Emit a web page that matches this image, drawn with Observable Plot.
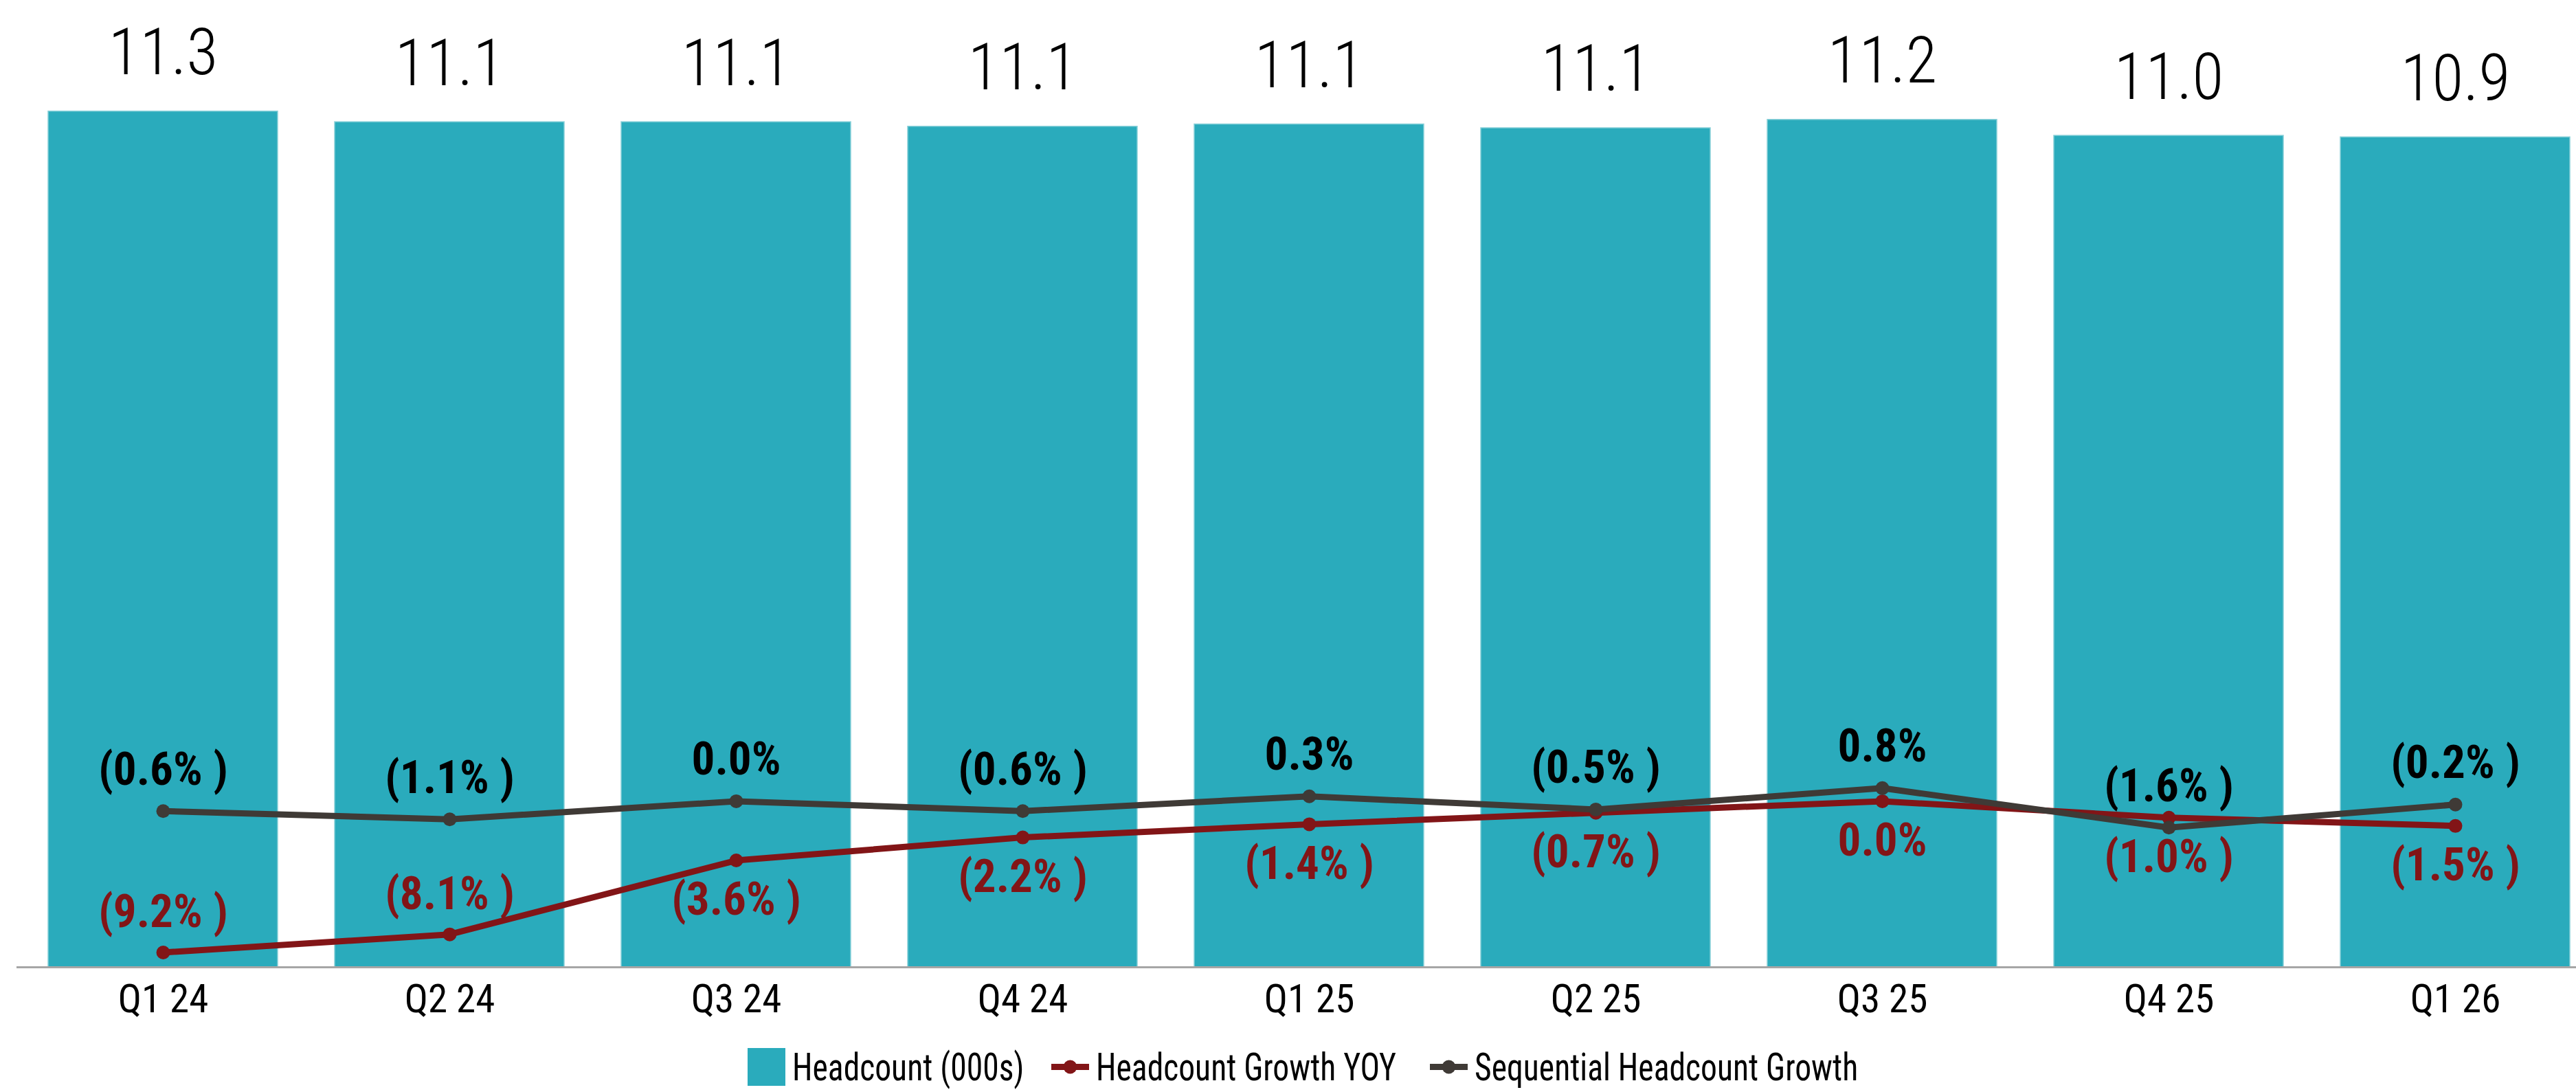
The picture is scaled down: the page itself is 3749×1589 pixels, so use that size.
<!DOCTYPE html>
<html>
<head>
<meta charset="utf-8">
<script src="https://cdn.jsdelivr.net/npm/d3@7"></script>
<script src="https://cdn.jsdelivr.net/npm/@observablehq/plot@0.6"></script>
<style>
  html, body { margin: 0; padding: 0; background: #ffffff; }
  body { width: 3749px; height: 1589px; overflow: hidden;
         font-family: "Liberation Sans Narrow", "Roboto Condensed", "Arial Narrow", "DejaVu Sans Condensed", sans-serif;
         font-stretch: condensed; }
  #legend { height: 89px; position: relative; }
  .item { position: absolute; top: 25px; height: 55px; display: flex; align-items: center;
          font-size: 56px; color: #000; white-space: nowrap; }
  .item svg { margin-right: 10px; flex: none; }
  .item span { display: inline-block; transform: scaleX(0.85); transform-origin: left center; }
</style>
</head>
<body>
<div id="chart"></div>
<div id="legend"></div>
<script>
// ---- data ----
const quarters   = ["Q1 24", "Q2 24", "Q3 24", "Q4 24", "Q1 25", "Q2 25", "Q3 25", "Q4 25", "Q1 26"];
const headcount  = [11.28, 11.14, 11.14, 11.08, 11.11, 11.06, 11.17, 10.96, 10.94]; // thousands
const yoyGrowth  = [-9.2, -8.1, -3.6, -2.2, -1.4, -0.7, 0.0, -1.0, -1.5];         // %
const seqGrowth  = [-0.6, -1.1, 0.0, -0.6, 0.3, -0.5, 0.8, -1.6, -0.2];           // %
const seriesNames = ["Headcount (000s)", "Headcount Growth YOY", "Sequential Headcount Growth"];

const rows = quarters.map((q, i) => ({q, hc: headcount[i], yoy: yoyGrowth[i], seq: seqGrowth[i]}));

const barColor = "#2aabbc";
const yoyColor = "#821517";
const seqColor = "#3f3a36";
const fontFam = '"Liberation Sans Narrow", "Roboto Condensed", "Arial Narrow", "DejaVu Sans Condensed", sans-serif';

// secondary (percent) axis aligned to the primary headcount axis
const yDomain = [0, 12.5];
const pctDomain = [-10.1, 47.6];
const y2 = d3.scaleLinear(pctDomain, yDomain);

const fmtPct = p => p < 0 ? `(${Math.abs(p).toFixed(1)}% )` : `${p.toFixed(1)}%`;
const fmtHc = d3.format(".1f");

const chart = Plot.plot({
  width: 3749,
  height: 1500,
  marginLeft: 67,
  marginRight: 7,
  marginTop: 27,
  marginBottom: 93,
  style: {fontFamily: fontFam, fontStretch: "condensed", color: "#000", background: "#fff"},
  x: {domain: quarters, paddingInner: 0.2, paddingOuter: 0, axis: null},
  y: {domain: yDomain, axis: null},
  marks: [
    Plot.barY(rows, {x: "q", y: "hc", fill: barColor, stroke: "#86cfd8", strokeWidth: 1.5}),
    Plot.ruleY([0], {stroke: "#a6a6a6", strokeWidth: 3, insetLeft: -43, insetRight: -7}),
    Plot.axisX({tickSize: 0, tickPadding: 25, fontSize: 57, fill: "#000", label: null}),
    Plot.text(rows, {x: "q", y: "hc", text: d => fmtHc(d.hc), lineAnchor: "bottom", dy: -54,
                     fontSize: 94, fontWeight: 300, fill: "#000"}),
    Plot.line(rows, {x: "q", y: d => y2(d.yoy), stroke: yoyColor, strokeWidth: 9}),
    Plot.dot(rows, {x: "q", y: d => y2(d.yoy), r: 10, fill: yoyColor}),
    Plot.line(rows, {x: "q", y: d => y2(d.seq), stroke: seqColor, strokeWidth: 9}),
    Plot.dot(rows, {x: "q", y: d => y2(d.seq), r: 10, fill: seqColor}),
    // sequential labels above points
    Plot.text(rows, {x: "q", y: d => y2(d.seq), text: d => fmtPct(d.seq), dy: -60,
                     fontSize: 67, fontWeight: "bold", fill: "#000"}),
    // YOY labels: above the point when far below the other line, otherwise below
    Plot.text(rows.filter(d => d.yoy < -5), {x: "q", y: d => y2(d.yoy), text: d => fmtPct(d.yoy), dy: -58,
                     fontSize: 67, fontWeight: "bold", fill: yoyColor}),
    Plot.text(rows.filter(d => d.yoy >= -5), {x: "q", y: d => y2(d.yoy), text: d => fmtPct(d.yoy), dy: 58,
                     fontSize: 67, fontWeight: "bold", fill: yoyColor})
  ]
});
document.getElementById("chart").appendChild(chart);

// legend
const legend = document.getElementById("legend");
const legendItems = [
  {name: seriesNames[0], kind: "bar", color: barColor, left: 1088},
  {name: seriesNames[1], kind: "line", color: yoyColor, left: 1530},
  {name: seriesNames[2], kind: "line", color: seqColor, left: 2081}
];
for (const it of legendItems) {
  const div = document.createElement("div");
  div.className = "item";
  div.style.left = it.left + "px";
  const icon = it.kind === "bar"
    ? `<svg width="55" height="55"><rect width="55" height="55" fill="${it.color}"/></svg>`
    : `<svg width="55" height="55"><line x1="0" x2="55" y1="27.5" y2="27.5" stroke="${it.color}" stroke-width="9"/><circle cx="27.5" cy="27.5" r="10" fill="${it.color}"/></svg>`;
  div.innerHTML = icon + `<span>${it.name}</span>`;
  legend.appendChild(div);
}
</script>
</body>
</html>
